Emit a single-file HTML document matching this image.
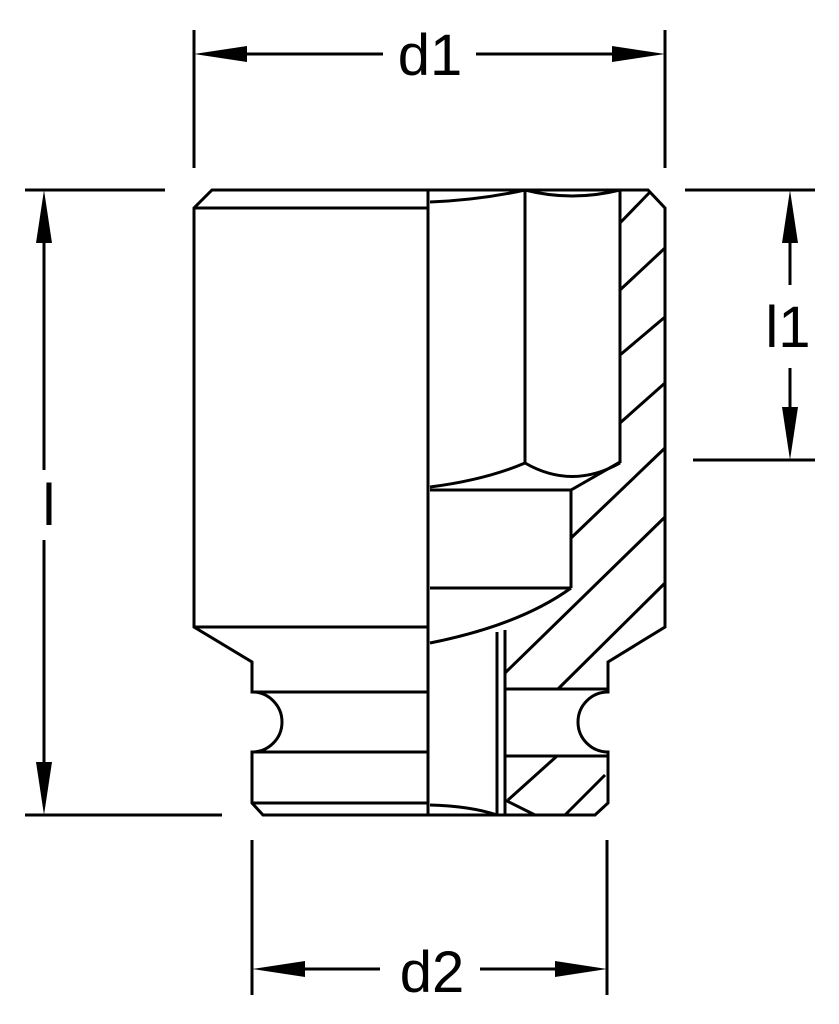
<!DOCTYPE html>
<html><head><meta charset="utf-8"><style>html,body{margin:0;padding:0;background:#fff}svg{display:block}</style></head>
<body>
<svg width="839" height="1024" viewBox="0 0 839 1024" xmlns="http://www.w3.org/2000/svg">
<g fill="none" stroke="#000" stroke-width="3" stroke-linejoin="miter">
<!-- dimension d1 -->
<line x1="194" y1="30" x2="194" y2="168"/>
<line x1="665" y1="30" x2="665" y2="168"/>
<line x1="247" y1="54" x2="383" y2="54"/>
<line x1="476" y1="54" x2="612" y2="54"/>
<!-- l -->
<line x1="25" y1="190" x2="165" y2="190"/>
<line x1="25" y1="815" x2="222" y2="815"/>
<line x1="44" y1="243" x2="44" y2="470"/>
<line x1="44" y1="540" x2="44" y2="762"/>
<!-- l1 -->
<line x1="685" y1="190" x2="815" y2="190"/>
<line x1="693" y1="460" x2="815" y2="460"/>
<line x1="790" y1="243" x2="790" y2="285"/>
<line x1="790" y1="368" x2="790" y2="407"/>
<!-- d2 -->
<line x1="252" y1="840" x2="252" y2="995"/>
<line x1="607" y1="840" x2="607" y2="995"/>
<line x1="305" y1="969" x2="380" y2="969"/>
<line x1="480" y1="969" x2="555" y2="969"/>

<!-- outline -->
<path d="M212,190 H648 L665,208 V627 L608,662 V692 A30,30 0 0 0 608,752 V803 L595,815 H263 L252,803 V752 A30,30 0 0 0 252,692 V662 L194,627 V208 Z"/>
<line x1="194" y1="208" x2="428" y2="208"/>
<line x1="428" y1="190" x2="428" y2="815"/>
<line x1="194" y1="627" x2="428" y2="627"/>
<line x1="252" y1="692" x2="428" y2="692"/>
<line x1="252" y1="752" x2="428" y2="752"/>
<line x1="252" y1="803" x2="428" y2="803"/>
<!-- hex bore -->
<line x1="525" y1="190" x2="525" y2="463"/>
<line x1="620" y1="190" x2="620" y2="463"/>
<path d="M430,202 Q480,200 525,190"/>
<path d="M525,190 Q572,202 620,190"/>
<path d="M430,487 Q485,480 525,463"/>
<path d="M525,463 Q572,490 620,463"/>
<!-- square drive -->
<path d="M430,490 H571 L620,462"/>
<line x1="571" y1="490" x2="571" y2="588"/>
<line x1="430" y1="588" x2="571" y2="588"/>
<path d="M571,588 Q520,625 430,643"/>
<line x1="497" y1="632" x2="497" y2="815"/>
<line x1="505" y1="630" x2="505" y2="815"/>
<line x1="505" y1="689" x2="608" y2="689"/>
<line x1="505" y1="756" x2="608" y2="756"/>
<path d="M430,805 Q470,806 497,815"/>
<!-- hatch -->
<line x1="620" y1="223" x2="650" y2="192"/>
<line x1="620" y1="290" x2="665" y2="248"/>
<line x1="620" y1="355" x2="665" y2="317"/>
<line x1="620" y1="423" x2="665" y2="383"/>
<line x1="571" y1="538" x2="665" y2="448"/>
<line x1="505" y1="673" x2="665" y2="517"/>
<line x1="558" y1="689" x2="665" y2="583"/>
<line x1="508" y1="800" x2="557" y2="756"/>
<line x1="505" y1="800" x2="535" y2="815"/>
<line x1="565" y1="815" x2="605" y2="775"/>
</g>
<g fill="#000">
<polygon points="194,54 247,46 247,62"/>
<polygon points="665,54 612,46 612,62"/>
<polygon points="44,190 36,243 52,243"/>
<polygon points="44,815 36,762 52,762"/>
<polygon points="790,190 782,243 798,243"/>
<polygon points="790,460 782,407 798,407"/>
<polygon points="252,969 305,961 305,977"/>
<polygon points="607,969 555,961 555,977"/>
</g>
<g font-family="Liberation Sans, sans-serif" font-size="58" fill="#000">
<text x="430" y="75" text-anchor="middle">d1</text>
<text x="432" y="992" text-anchor="middle">d2</text>
<text x="49" y="525" text-anchor="middle">l</text>
<text x="788" y="347" text-anchor="middle">l1</text>
</g>
</svg>
</body></html>
